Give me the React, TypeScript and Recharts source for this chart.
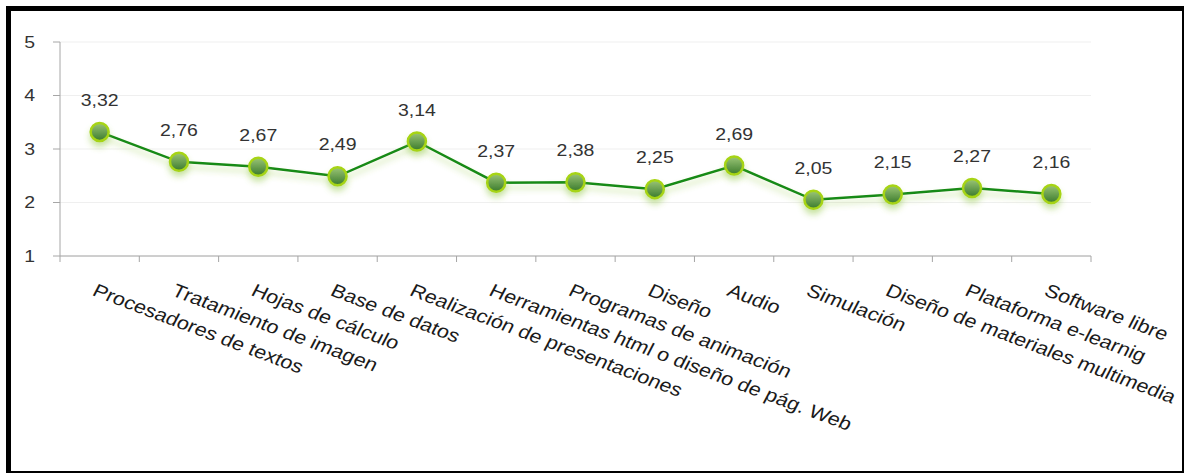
import { CartesianGrid, Line, LineChart, XAxis, YAxis } from "recharts";

const categories = [
  "Procesadores de textos",
  "Tratamiento de imagen",
  "Hojas de cálculo",
  "Base de datos",
  "Realización de presentaciones",
  "Herramientas html o diseño de pág. Web",
  "Programas de animación",
  "Diseño",
  "Audio",
  "Simulación",
  "Diseño de materiales multimedia",
  "Plataforma e-learnig",
  "Software libre",
];

const scores = [3.32, 2.76, 2.67, 2.49, 3.14, 2.37, 2.38, 2.25, 2.69, 2.05, 2.15, 2.27, 2.16];

const yTicks = [1, 2, 3, 4, 5];

const data = categories.map((name, i) => ({ name, pos: i + 0.5, score: scores[i] }));
const xTicks = categories.map((_, i) => i).concat(categories.length);

const W = 1184;
const H = 473;
const SX = 1.18; // the source picture is stretched sideways
const FONT = "'Liberation Sans', Arial, sans-serif";
const PLOT_W = 1031;

const fmt = (v: number) => v.toFixed(2).replace(".", ",");

function CategoryTick(props: any) {
  const { x, y, payload } = props;
  const i = payload.value;
  if (i >= categories.length) return null;
  const step = (props.width || PLOT_W) / categories.length;
  return (
    <text
      transform={`translate(${x + step / 2 - 2},${y}) scale(${SX},1) rotate(24)`}
      fontFamily={FONT}
      fontSize={18.4}
      fill="#1a1a1a"
      dy="0.72em"
    >
      {categories[i]}
    </text>
  );
}

function ValueTick(props: any) {
  const { x, y, payload } = props;
  return (
    <text
      transform={`translate(${x},${y}) scale(${SX},1)`}
      textAnchor="end"
      dy="0.36em"
      fontFamily={FONT}
      fontSize={16.5}
      fill="#333"
    >
      {payload.value}
    </text>
  );
}

function PointLabel(props: any) {
  const { x, y, value } = props;
  return (
    <text
      transform={`translate(${x},${y - 26}) scale(${SX},1)`}
      textAnchor="middle"
      fontFamily={FONT}
      fontSize={16.5}
      fill="#333"
    >
      {fmt(value)}
    </text>
  );
}

function Dot(props: any) {
  const { cx, cy, index } = props;
  return (
    <circle
      key={index}
      cx={cx}
      cy={cy}
      r={9}
      fill="url(#dotFill)"
      stroke="#a6d412"
      strokeWidth={2.5}
      filter="url(#glow)"
    />
  );
}

export default function App() {
  return (
    <div style={{ position: "absolute", left: 0, top: 0, width: W, height: H, background: "#fff" }}>
      <LineChart
        width={W}
        height={H}
        data={data}
        margin={{ top: 42, right: 93, bottom: 187, left: 0 }}
      >
        <defs>
          <linearGradient id="dotFill" x1="0" y1="0" x2="0" y2="1">
            <stop offset="0%" stopColor="#9cc677" />
            <stop offset="100%" stopColor="#3a7a2c" />
          </linearGradient>
          <filter id="glow" x="-100%" y="-100%" width="300%" height="300%">
            <feDropShadow dx="0" dy="5" stdDeviation="3" floodColor="#8cc43c" floodOpacity="0.45" />
          </filter>
        </defs>
        <CartesianGrid vertical={false} stroke="#efefef" />
        <XAxis
          dataKey="pos"
          type="number"
          domain={[0, categories.length]}
          ticks={xTicks}
          interval={0}
          height={30}
          tickSize={6}
          tickMargin={21}
          stroke="#a6a6a6"
          tick={<CategoryTick />}
        />
        <YAxis
          domain={[1, 5]}
          ticks={yTicks}
          width={60}
          tickSize={7}
          tickMargin={18}
          stroke="#a6a6a6"
          tick={<ValueTick />}
        />
        <Line
          dataKey="score"
          type="linear"
          stroke="#178a17"
          strokeWidth={2.5}
          filter="url(#glow)"
          dot={<Dot />}
          activeDot={false}
          label={<PointLabel />}
          isAnimationActive={false}
        />
      </LineChart>
      <div
        style={{
          position: "absolute",
          left: 6,
          top: 6,
          width: W - 6,
          height: H - 6,
          boxSizing: "border-box",
          borderStyle: "solid",
          borderColor: "#000",
          borderWidth: "5px 2px 2px 5px",
          pointerEvents: "none",
        }}
      />
    </div>
  );
}
